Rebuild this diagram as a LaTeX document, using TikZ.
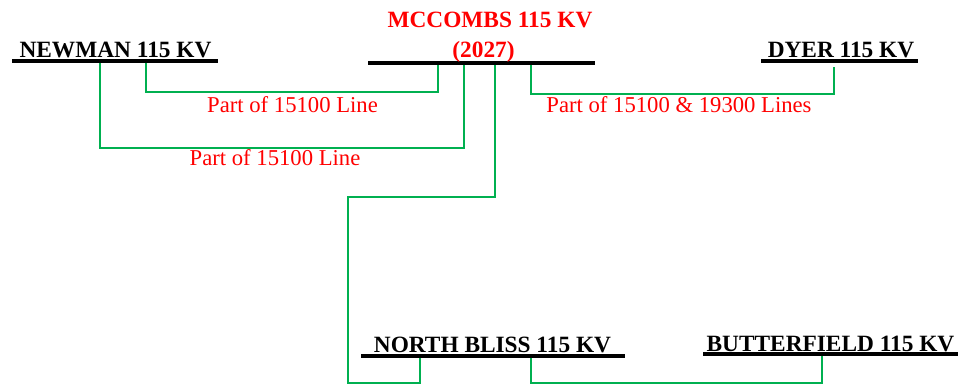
\documentclass[tikz,border=0pt]{standalone}
\usepackage{fontspec}
\setmainfont{Liberation Serif}
\usetikzlibrary{calc,backgrounds,positioning}
\definecolor{feedgreen}{RGB}{0,176,80}
\definecolor{labelred}{RGB}{255,0,0}

\begin{document}
\begin{tikzpicture}[%
    x=0.75pt, y=-0.75pt,%
    show background rectangle,%
    tight background,%
    background rectangle/.style={fill=white},%
    station/.style={font=\fontsize{17.5}{20}\selectfont\bfseries, inner sep=0pt, anchor=base},%
    newstation/.style={station, text=labelred},%
    bus/.style={line width=2.4pt},%
    feeder/.style={draw=feedgreen, line width=2.1pt},%
    linelabel/.style={font=\fontsize{17}{20}\selectfont, text=labelred, inner sep=0pt, anchor=base}%
  ]
  \useasboundingbox (0,0) rectangle (968,386);%

  % Bus ends
  \coordinate (NWl) at (12,61);%
  \coordinate (NWr) at (218,61);%
  \coordinate (MCl) at (368,63);%
  \coordinate (MCr) at (595,63);%
  \coordinate (DYl) at (761,61);%
  \coordinate (DYr) at (918,61);%
  \coordinate (NBl) at (361,356);%
  \coordinate (NBr) at (625,356);%
  \coordinate (BFl) at (703,354);%
  \coordinate (BFr) at (958,354);%

  % Taps
  \coordinate (NW1) at (146,61);%
  \coordinate (NW2) at (100,61);%
  \coordinate (MC1) at (438,63);%
  \coordinate (MC2) at (464,63);%
  \coordinate (MC3) at (495,63);%
  \coordinate (MC4) at (531,63);%
  \coordinate (DY1) at (834,67);%
  \coordinate (NB1) at (420,356);%
  \coordinate (NB2) at (531,356);%
  \coordinate (BF1) at (822,354);%
  \coordinate (BendA) at (348,197);%
  \coordinate (BendB) at (348,383);%

  % Lines
  \draw[feeder] (NW1) -- ++(0,31) -| (MC1);%
  \draw[feeder] (NW2) -- ++(0,87) -| (MC2);%
  \draw[feeder] (MC4) -- ++(0,31) -| (DY1);%
  \draw[feeder] (MC3) |- (BendA) -- (BendB) -| (NB1);%
  \draw[feeder] (NB2) -- ++(0,27) -| (BF1);%

  % Buses
  \draw[bus] (NWl) -- (NWr);%
  \draw[bus] (MCl) -- (MCr);%
  \draw[bus] (DYl) -- (DYr);%
  \draw[bus] (NBl) -- (NBr);%
  \draw[bus] (BFl) -- (BFr);%

  % Nodes
  \node[station] (newman) at (115.5,57) {NEWMAN 115 KV};%
  \node[newstation] (mccombs) at (490,27) {MCCOMBS 115 KV};%
  \node[newstation] (mccombsyr) at (483.5,57) {(2027)};%
  \node[station] (dyer) at (841,57) {DYER 115 KV};%
  \node[station] (northbliss) at (492.5,352) {NORTH BLISS 115 KV};%
  \node[station] (butterfield) at (830.5,351) {BUTTERFIELD 115 KV};%

  % Line names
  \node[linelabel] (lbla) at (292.5,112) {Part of 15100 Line};%
  \node[linelabel] (lblb) at (275,165) {Part of 15100 Line};%
  \node[linelabel] (lblc) at (679,112) {Part of 15100 \& 19300 Lines};%
\end{tikzpicture}
\end{document}
